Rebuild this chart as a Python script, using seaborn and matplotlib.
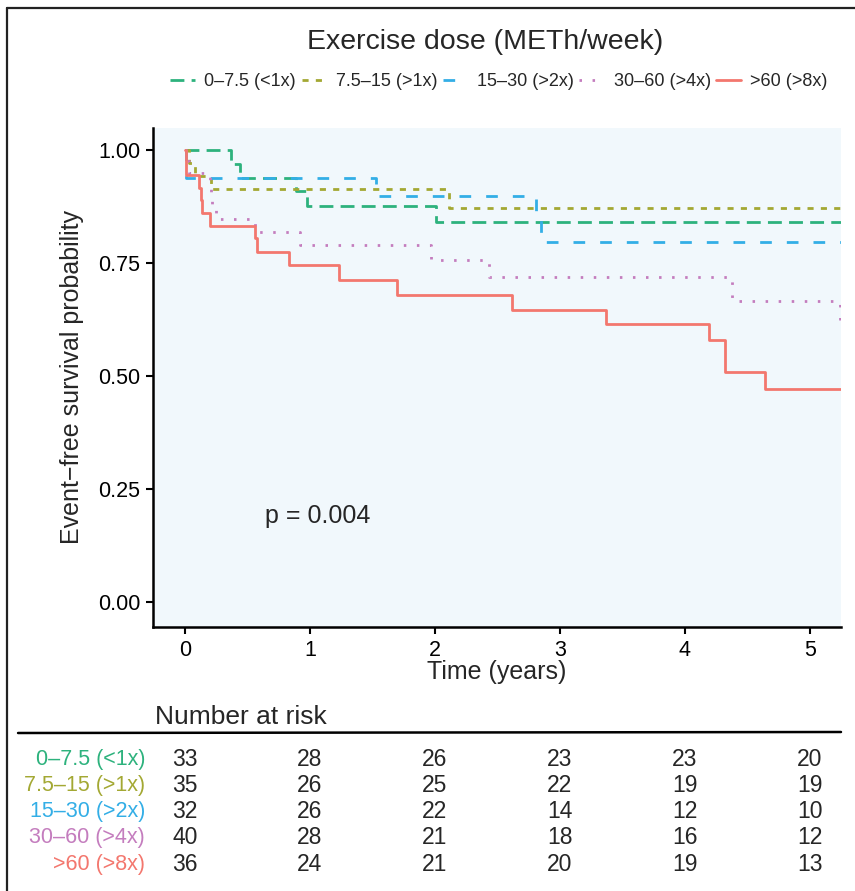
import numpy as np
import pandas as pd
import matplotlib
matplotlib.use("Agg")
import matplotlib.pyplot as plt
from matplotlib.lines import Line2D
import seaborn as sns

# 그룹 / 색
groups = ["0\u20137.5 (<1x)", "7.5\u201315 (>1x)", "15\u201330 (>2x)", "30\u201360 (>4x)", ">60 (>8x)"]
colors = ["#2DB27D", "#A3A833", "#33AEE6", "#C47DBE", "#F3776E"]

# KM 곡선
t_g1 = [0, 0.37, 0.44, 0.89, 0.98, 2.01, 5.3]
s_g1 = [1.0, 0.970, 0.939, 0.909, 0.877, 0.841, 0.841]

t_g2 = [0, 0.03, 0.08, 0.21, 2.11, 5.3]
s_g2 = [1.0, 0.971, 0.943, 0.914, 0.871, 0.871]

t_g3 = [0, 0.01, 1.53, 2.81, 2.85, 5.3]
s_g3 = [1.0, 0.9375, 0.898, 0.85, 0.797, 0.797]

t_g4 = [0, 0.01, 0.03, 0.2, 0.21, 0.22, 0.25, 0.56, 0.92, 1.97, 2.43, 4.38, 5.24, 5.3]
s_g4 = [1.0, 0.975, 0.95, 0.925, 0.9, 0.875, 0.847, 0.819, 0.79, 0.757, 0.719, 0.666, 0.61, 0.61]

t_g5 = [0, 0.01, 0.11, 0.13, 0.14, 0.2, 0.56, 0.58, 0.83, 1.23, 1.7, 2.62, 3.37, 4.19, 4.32, 4.64, 5.3]
s_g5 = [1.0, 0.944, 0.917, 0.889, 0.861, 0.833, 0.805, 0.775, 0.745, 0.713, 0.679, 0.646, 0.615, 0.58, 0.509, 0.472, 0.472]

# number at risk
risk_times = [0, 1, 2, 3, 4, 5]
risk_g1 = [33, 28, 26, 23, 23, 20]
risk_g2 = [35, 26, 25, 22, 19, 19]
risk_g3 = [32, 26, 22, 14, 12, 10]
risk_g4 = [40, 28, 21, 18, 16, 12]
risk_g5 = [36, 24, 21, 20, 19, 13]

times = [t_g1, t_g2, t_g3, t_g4, t_g5]
survs = [s_g1, s_g2, s_g3, s_g4, s_g5]
risks = [risk_g1, risk_g2, risk_g3, risk_g4, risk_g5]

df = pd.concat([pd.DataFrame({"time": t, "surv": s, "group": g})
                for t, s, g in zip(times, survs, groups)], ignore_index=True)

dash_list = [(5, 2.6), (2.2, 2.6), (4.2, 5.4), (0.9, 3.8), ""]
pal = dict(zip(groups, colors))
dsh = dict(zip(groups, dash_list))

sns.set_theme(style="ticks")
plt.rcParams['font.family'] = ['Liberation Sans', 'DejaVu Sans']

W, H = 855, 891
fig = plt.figure(figsize=(W / 100, H / 100), dpi=100)

# 테두리 (위/왼쪽)
fig.add_artist(plt.Line2D([7 / W, 7 / W], [0, 1 - 8 / H], color="#222222", lw=1.6, transform=fig.transFigure))
fig.add_artist(plt.Line2D([7 / W, 1], [1 - 8 / H, 1 - 8 / H], color="#222222", lw=1.6, transform=fig.transFigure))

ax = fig.add_axes([153 / W, 1 - 627 / H, 688 / W, 499 / H])
ax.set_facecolor("#F1F8FC")
sns.lineplot(data=df, x="time", y="surv", hue="group", style="group", palette=pal,
             dashes=dsh, hue_order=groups, style_order=groups, drawstyle="steps-post",
             estimator=None, sort=False, lw=2.0, legend=False, ax=ax)

ax.set_xlim(-0.256, 5.25)
ax.set_ylim(-0.055, 1.049)
ax.set_xticks([0, 1, 2, 3, 4, 5])
ax.set_yticks([0, 0.25, 0.5, 0.75, 1.0])
ax.set_yticklabels(["0.00", "0.25", "0.50", "0.75", "1.00"])
ax.tick_params(labelsize=15.5, width=1.5, length=5, color="black", labelcolor="black", pad=4)
for sp in ["top", "right"]:
    ax.spines[sp].set_visible(False)
for sp in ["left", "bottom"]:
    ax.spines[sp].set_linewidth(1.8)
    ax.spines[sp].set_color("black")
ax.set_xlabel("Time (years)", fontsize=18, labelpad=0)
ax.set_ylabel("Event\u2212free survival probability", fontsize=18, labelpad=10)
ax.text(1.06, 0.19, "p = 0.004", fontsize=18, ha="center", va="center")

# 범례
handles = [Line2D([0], [0], color=c, lw=2.0, linestyle="-" if d == "" else (0, d))
           for c, d in zip(colors, dash_list)]
fig.text(485 / W, 1 - 42 / H, "Exercise dose (METh/week)", fontsize=20.5, ha="center", va="center")
fig.legend(handles, groups, loc="center", bbox_to_anchor=(499 / W, 1 - 82 / H), ncol=5,
           frameon=False, fontsize=13, handlelength=1.4, handletextpad=0.5, columnspacing=0.3)

# number at risk 표
rax = fig.add_axes([153 / W, 0, 688 / W, 191 / H])
rax.set_xlim(ax.get_xlim())
rax.set_ylim(891, 700)
rax.axis("off")
rax.text(-0.24, 717, "Number at risk", fontsize=19, ha="left", va="center")
rax.plot([-1.336, 5.25], [733, 732], color="black", lw=1.8, clip_on=False)
row_y = [760, 786, 812, 838, 865]
for g, c, r, y in zip(groups, colors, risks, row_y):
    rax.text(-0.32, y, g, color=c, fontsize=15.5, ha="right", va="center", clip_on=False)
    for tt, n in zip(risk_times, r):
        rax.text(tt, y, str(n), fontsize=16.5, ha="center", va="center")

fig.savefig("out.png", dpi=100)
